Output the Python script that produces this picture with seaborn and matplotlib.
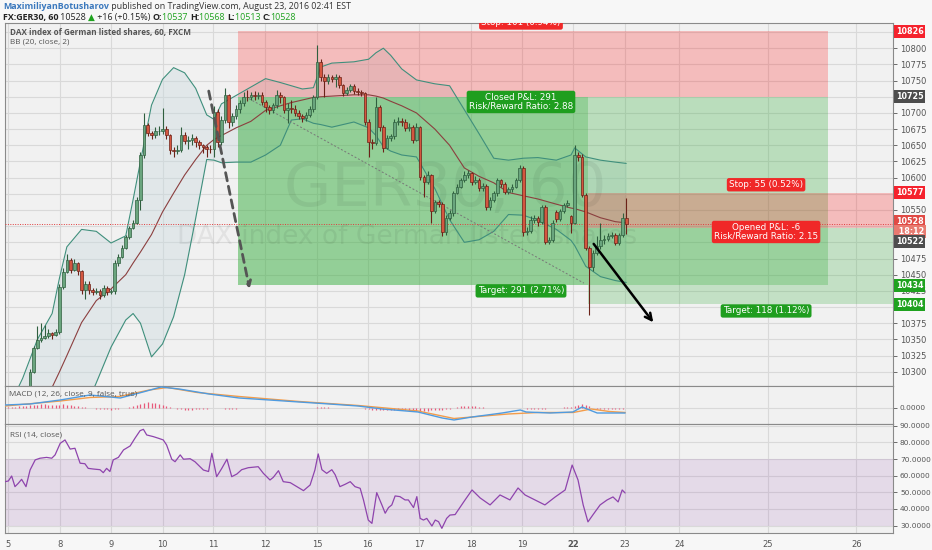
import numpy as np
import matplotlib
matplotlib.use("Agg")
import matplotlib.pyplot as plt
import seaborn as sns

# =====================================
# DATA (hourly bars)
# =====================================

opens = [
    10278, 10300, 10337, 10349, 10352, 10356, 10360, 10357, 10362, 10431,
    10454, 10473, 10458, 10468, 10456, 10427, 10436, 10426, 10424, 10425,
    10418, 10430, 10423, 10425, 10468, 10478, 10492, 10509, 10522, 10530,
    10566, 10635, 10681, 10669, 10666, 10672, 10672, 10675, 10666, 10642,
    10641, 10643, 10666, 10657, 10658, 10661, 10655, 10650, 10647, 10645,
    10644, 10701, 10655, 10689, 10727, 10686, 10696, 10706, 10715, 10725,
    10724, 10727, 10726, 10728, 10717, 10709, 10704, 10712, 10727, 10724,
    10705, 10707, 10706, 10700, 10695, 10692, 10697, 10706, 10725, 10779,
    10756, 10749, 10755, 10752, 10756, 10743, 10731, 10735, 10741, 10734,
    10732, 10731, 10686, 10655, 10653, 10709, 10678, 10646, 10661, 10664,
    10686, 10688, 10686, 10676, 10679, 10658, 10678, 10601, 10593, 10604,
    10549, 10562, 10560, 10516, 10538, 10545, 10576, 10586, 10596, 10604,
    10607, 10593, 10596, 10584, 10587, 10554, 10566, 10576, 10596, 10590,
    10578, 10582, 10586, 10596, 10615, 10516, 10518, 10535, 10537, 10531,
    10554, 10501, 10503, 10547, 10536, 10548, 10558, 10540, 10530, 10635,
    10632, 10573, 10492, 10462, 10484, 10494, 10503, 10505, 10510, 10512,
    10499, 10511, 10537,
]
highs = [
    10304, 10340, 10370, 10376, 10372, 10366, 10362, 10366, 10436, 10460,
    10482, 10476, 10474, 10470, 10458, 10440, 10440, 10430, 10430, 10428,
    10434, 10432, 10428, 10472, 10482, 10496, 10512, 10526, 10534, 10570,
    10640, 10700, 10684, 10672, 10678, 10680, 10708, 10680, 10668, 10648,
    10650, 10678, 10670, 10664, 10668, 10664, 10658, 10652, 10650, 10650,
    10710, 10706, 10696, 10738, 10730, 10700, 10712, 10720, 10732, 10736,
    10733, 10734, 10732, 10732, 10720, 10712, 10716, 10735, 10732, 10726,
    10716, 10720, 10712, 10704, 10698, 10702, 10710, 10728, 10805, 10784,
    10760, 10760, 10758, 10760, 10758, 10745, 10740, 10745, 10744, 10738,
    10736, 10733, 10690, 10660, 10725, 10712, 10682, 10666, 10668, 10690,
    10694, 10692, 10690, 10684, 10682, 10684, 10680, 10604, 10610, 10606,
    10566, 10566, 10562, 10542, 10550, 10580, 10590, 10600, 10610, 10612,
    10608, 10602, 10600, 10592, 10590, 10570, 10580, 10600, 10598, 10594,
    10586, 10590, 10600, 10620, 10618, 10524, 10540, 10543, 10540, 10558,
    10558, 10508, 10534, 10550, 10551, 10561, 10565, 10542, 10650, 10640,
    10636, 10576, 10494, 10488, 10510, 10530, 10512, 10515, 10516, 10514,
    10514, 10545, 10568,
]
lows = [
    10275, 10298, 10335, 10346, 10350, 10352, 10350, 10356, 10358, 10428,
    10452, 10452, 10455, 10450, 10420, 10412, 10420, 10418, 10420, 10412,
    10416, 10418, 10420, 10420, 10464, 10476, 10490, 10505, 10520, 10528,
    10550, 10630, 10664, 10660, 10662, 10666, 10668, 10660, 10636, 10632,
    10636, 10640, 10652, 10645, 10650, 10648, 10644, 10638, 10632, 10638,
    10632, 10648, 10650, 10684, 10676, 10680, 10690, 10700, 10710, 10718,
    10720, 10720, 10722, 10712, 10702, 10698, 10700, 10708, 10716, 10700,
    10684, 10700, 10696, 10690, 10686, 10688, 10694, 10702, 10722, 10750,
    10725, 10745, 10748, 10740, 10738, 10726, 10728, 10732, 10730, 10728,
    10726, 10682, 10632, 10645, 10650, 10672, 10640, 10644, 10656, 10660,
    10682, 10680, 10672, 10672, 10654, 10656, 10596, 10570, 10590, 10530,
    10546, 10554, 10510, 10512, 10534, 10540, 10574, 10584, 10594, 10600,
    10588, 10590, 10580, 10580, 10550, 10550, 10562, 10572, 10586, 10574,
    10574, 10578, 10584, 10594, 10510, 10512, 10514, 10530, 10526, 10528,
    10497, 10497, 10500, 10532, 10533, 10545, 10555, 10515, 10528, 10626,
    10570, 10488, 10388, 10455, 10480, 10490, 10498, 10502, 10506, 10496,
    10496, 10508, 10513,
]
closes = [
    10300, 10337, 10349, 10352, 10356, 10360, 10357, 10362, 10431, 10454,
    10473, 10458, 10468, 10456, 10427, 10436, 10426, 10424, 10425, 10418,
    10430, 10423, 10425, 10468, 10478, 10492, 10509, 10522, 10530, 10566,
    10635, 10681, 10669, 10666, 10672, 10672, 10675, 10666, 10642, 10641,
    10643, 10666, 10657, 10658, 10661, 10655, 10650, 10647, 10645, 10644,
    10701, 10655, 10689, 10727, 10686, 10696, 10706, 10715, 10725, 10724,
    10727, 10726, 10728, 10717, 10709, 10704, 10712, 10727, 10724, 10705,
    10707, 10706, 10700, 10695, 10692, 10697, 10706, 10725, 10779, 10756,
    10749, 10755, 10752, 10756, 10743, 10731, 10735, 10741, 10734, 10732,
    10731, 10686, 10655, 10653, 10709, 10678, 10646, 10661, 10664, 10686,
    10688, 10686, 10676, 10679, 10658, 10678, 10601, 10593, 10604, 10549,
    10562, 10560, 10516, 10538, 10545, 10576, 10586, 10596, 10604, 10607,
    10593, 10596, 10584, 10587, 10554, 10566, 10576, 10596, 10590, 10578,
    10582, 10586, 10596, 10615, 10516, 10518, 10535, 10537, 10531, 10554,
    10501, 10503, 10530, 10536, 10548, 10558, 10561, 10530, 10635, 10632,
    10573, 10492, 10462, 10484, 10494, 10503, 10505, 10510, 10512, 10499,
    10511, 10537, 10528,
]

# Bollinger bands (20, close, 2)
bb_bar = [-7, -2, 2, 6, 8, 10, 14, 18, 22, 26,
          28, 30, 33, 36, 39, 42, 45, 48, 50, 52,
          56, 60, 64, 68, 71, 74, 77, 79, 82, 88,
          92, 94, 96, 98, 101, 105, 110, 114, 118, 122,
          126, 130, 134, 138, 143, 147, 148, 151, 155, 159,
          162]
bb_upper = [10230, 10290, 10350, 10390, 10445, 10493, 10520, 10517, 10499, 10510,
            10566, 10625, 10712, 10752, 10770, 10762, 10738, 10697, 10690, 10714,
            10727, 10740, 10753, 10747, 10742, 10737, 10739, 10771, 10777, 10779,
            10783, 10793, 10800, 10789, 10768, 10751, 10745, 10742, 10705, 10668,
            10630, 10627, 10630, 10631, 10627, 10635, 10646, 10632, 10627, 10624,
            10622]
bb_mid = [10160, 10210, 10240, 10276, 10300, 10325, 10376, 10410, 10428, 10450,
          10468, 10485, 10512, 10547, 10576, 10604, 10628, 10650, 10659, 10665,
          10677, 10687, 10704, 10711, 10716, 10720, 10724, 10725, 10726, 10728,
          10728, 10726, 10723, 10718, 10711, 10700, 10675, 10650, 10615, 10602,
          10592, 10577, 10572, 10567, 10559, 10553, 10552, 10547, 10538, 10532,
          10530]
bb_lower = [10090, 10110, 10130, 10160, 10175, 10190, 10230, 10283, 10338, 10380,
            10390, 10375, 10323, 10343, 10385, 10450, 10537, 10628, 10627, 10623,
            10624, 10624, 10635, 10650, 10689, 10691, 10684, 10682, 10678, 10686,
            10677, 10665, 10648, 10641, 10635, 10632, 10583, 10535, 10500, 10504,
            10517, 10543, 10542, 10534, 10520, 10503, 10495, 10463, 10447, 10441,
            10438]

# MACD (12, 26, close, 9)
macd_bar = [-6.8, 0.0, 8.2, 16.3, 24.5, 30.7, 35.6, 40.5, 48.6, 56.8, 65.0, 73.1,
            81.3, 89.1, 95.7, 105.4, 112.0, 115.2, 120.1, 128.3, 133.2, 134.8,
            141.3, 147.5, 150.0, 154.1, 161.7]
macd_val = [6, 8, 16, 26, 20, 32, 42, 38, 28, 20, 16, 12,
            8, 4, -2, -8, -20, -24, -18, -10, -4, -8,
            -10, -8, 2, -10, -10]
signal_bar = [-6.8, 8.2, 16.3, 24.3, 32.4, 37.3, 45.4, 56.8, 73.1, 89.2,
              105.4, 115.2, 121.7, 129.9, 138.0, 147.6, 152.5, 157.4, 161.7]
signal_val = [4, 14, 21, 23, 36, 41, 31, 23, 13, 5,
              -6, -21, -17, -12, -9, -9, -2, -7, -9]
hist_val = [
    1, 1, 2, 2, 3, 3, 4,
    5, 6, 6, 7, 7, 6, 6, 5, 6, 7,
    6, 5, 4, 3, 2, 1, 0, -1, -2, -3,
    -3, -3, -4, -3, -2, -1, 0, 2, 4, 6,
    8, 10, 11, 10, 9, 7, 5, 3, 1, -1,
    -2, -3, -4, -4, -4, -3, -3, -2, -2, -1,
    0, -1, -1, -2, -2, -2, -2, -1, -1, -1,
    -1, -1, -1, -1, -1, 0, 0, 0, -1, -1,
    -1, -1, -1, -1, -1, -1, 0, 0, 1, 1,
    1, 1, 0, 0, 0, 0, 0, 0, 0, -1,
    -1, -2, -3, -4, -4, -5, -5, -5, -5, -4,
    -4, -4, -4, -5, -5, -6, -6, -6, -6, -5,
    -5, -5, -4, -3, -2, -1, 1, 3, 4, 4,
    4, 3, 2, 1, 0, -1, -1, -1, -1, -1,
    -1, -1, -1, 0, -1, -2, -2, -2, -2, -2,
    -2, -1, -1, 0, 0, 1, 1, 2, 4, 6,
    7, 6, 3, 0, -2, -3, -3, -3, -3, -3,
    -2, -2, -1,
]

# RSI (14, close)
rsi_bar = [-6.8, -5.9, -5.0, -4.1, -3.2, -2.3, -1.1, 0.0, 1.4, 2.7,
           4.5, 5.9, 6.8, 8.2, 9.5, 10.9, 12.2, 13.6, 14.9, 15.8,
           17.2, 19.0, 19.9, 20.8, 21.7, 22.6, 24.0, 25.4, 27.2, 28.5,
           29.9, 30.8, 31.7, 33.5, 34.9, 36.2, 37.1, 38.5, 39.4, 40.8,
           41.7, 43.5, 44.8, 47.1, 48.5, 49.4, 50.7, 52.1, 53.5, 54.8,
           56.2, 57.5, 59.3, 62.0, 63.4, 65.2, 66.1, 67.5, 68.8, 70.7,
           72.5, 74.3, 76.1, 77.4, 78.3, 79.3, 80.6, 82.0, 82.9, 84.2,
           85.6, 87.0, 88.3, 89.7, 90.6, 91.9, 92.9, 94.2, 95.6, 96.5,
           97.4, 98.3, 99.2, 100.5, 101.9, 102.8, 104.2, 105.1, 106.0, 106.9,
           107.8, 109.2, 110.1, 111.0, 111.9, 113.2, 114.1, 115.5, 118.2, 120.1,
           122.3, 125.0, 127.7, 130.4, 132.6, 134.5, 137.2, 139.9, 142.7, 145.4,
           147.3, 148.9, 150.3, 151.6, 153.0, 154.9, 156.8, 158.4, 159.8, 160.9,
           161.7]
rsi_val = [56.4, 56.8, 59.8, 53.4, 55.4, 57.8, 53.4, 63.4, 69.5, 70.5,
           71.0, 70.5, 72.5, 79.5, 81.5, 76.0, 76.5, 67.5, 67.2, 64.4,
           64.0, 63.6, 61.8, 64.4, 62.5, 69.5, 71.0, 75.5, 77.9, 82.5,
           87.1, 87.9, 84.5, 83.5, 82.5, 81.5, 78.5, 69.9, 68.4, 72.5,
           69.9, 70.2, 68.4, 63.4, 62.5, 73.5, 59.4, 64.4, 69.9, 59.4,
           61.0, 63.6, 64.8, 65.4, 61.4, 57.4, 59.0, 63.0, 56.4, 55.8,
           53.4, 51.0, 54.4, 63.4, 73.1, 63.6, 61.4, 63.6, 60.6, 53.4,
           54.8, 56.4, 53.4, 52.4, 45.4, 33.3, 31.3, 49.8, 42.4, 37.4,
           40.8, 42.4, 47.8, 47.4, 45.4, 45.4, 40.8, 47.4, 34.3, 33.3,
           34.3, 29.7, 33.3, 32.3, 28.3, 34.3, 36.3, 36.6, 45.4, 51.4,
           46.6, 42.4, 48.4, 45.4, 52.6, 48.4, 45.4, 42.4, 47.2, 51.4,
           66.4, 57.4, 42.4, 32.2, 36.6, 42.4, 45.4, 47.2, 44.2, 51.4,
           49.6]

# date axis
day_labels = ["5", "8", "9", "10", "11", "12", "15", "16", "17", "18",
              "19", "22", "23", "24", "25", "26"]
day_bar = [-6.0, 8.2, 22.0, 36.0, 49.7, 63.9, 78.0, 91.8, 105.7, 119.8,
           133.7, 147.6, 161.7, 176.4, 200.5, 224.5]

# short positions (entry, stop, target, start bar, close bar, end bar)
pos1 = dict(entry=10725, stop=10826, target=10434, start=56.4, close=151.6, end=216.8)
pos2 = dict(entry=10522, stop=10577, target=10404, start=151.6, end=248.0)
trade_line = ([59.5, 150.5], [10722, 10437])
dash_arrow = ((48.4, 10738), (59.8, 10424))
black_arrow = ((152.7, 10501), (169.8, 10373))
last_price = 10528

# price levels hidden behind the coloured scale tags
covered_levels = [10825, 10725, 10575, 10525, 10500, 10400]

# =====================================
# FIGURE
# =====================================

sns.set_style("white")
plt.rcParams["font.family"] = ["DejaVu Sans"]

BG = "#f1f1f1"
GRID = "#d9d9d9"
TXT = "#555555"
HEAD_FONT = ["Open Sans", "DejaVu Sans"]

fig = plt.figure(figsize=(9.32, 5.5), dpi=100, facecolor="#f7f7f7")
ax = fig.add_axes([0.0054, 0.2982, 0.9528, 0.6600])
ax_macd = fig.add_axes([0.0054, 0.2291, 0.9528, 0.0691], sharex=ax)
ax_rsi = fig.add_axes([0.0054, 0.0309, 0.9528, 0.1982], sharex=ax)

x_min, x_max = -6.8, 234.5
for a in (ax, ax_macd, ax_rsi):
    a.set_facecolor(BG)
    for s in a.spines.values():
        s.set_color("#8a8a8a")
        s.set_linewidth(0.8)
    a.yaxis.tick_right()
    a.tick_params(axis="y", labelsize=6, colors=TXT, length=3, width=0.6, pad=2)
    for d in day_bar:
        a.axvline(d, color=GRID, lw=0.8, zorder=0)
ax.set_xlim(x_min, x_max)

# ---- main price panel ----
ax.set_ylim(10278, 10839)
price_ticks = np.arange(10300, 10826, 25)
ax.set_yticks(price_ticks)
ax.set_yticklabels(["" if p in covered_levels else str(p) for p in price_ticks])
for p in price_ticks:
    ax.axhline(p, color=GRID, lw=0.8, zorder=0)

# bollinger band fill (under the position boxes)
ax.fill_between(bb_bar, bb_lower, bb_upper, color="#c9d9df", alpha=0.4, lw=0, zorder=0.5)

# position boxes
ax.fill_between([pos1["start"], pos1["end"]], pos1["entry"], pos1["stop"],
                color="red", alpha=0.22, lw=0, zorder=1)
ax.fill_between([pos1["start"], pos1["end"]], pos1["target"], pos1["entry"],
                color="#3cb043", alpha=0.3, lw=0, zorder=1)
ax.fill_between([pos1["start"], pos1["close"]], pos1["target"], pos1["entry"],
                color="#3cb043", alpha=0.3, lw=0, zorder=1)
ax.fill_between([pos2["start"], pos2["end"]], pos2["entry"], pos2["stop"],
                color="red", alpha=0.22, lw=0, zorder=1)
ax.fill_between([pos2["start"], pos2["end"]], pos2["target"], pos2["entry"],
                color="#3cb043", alpha=0.25, lw=0, zorder=1)

# watermark
ax.text(112.8, 10581, "GER30, 60", fontsize=44, color="black", alpha=0.06,
        ha="center", va="center", zorder=1.5)
ax.text(102.4, 10508, "DAX index of German listed shares", fontsize=19,
        color="black", alpha=0.06, ha="center", va="center", zorder=1.5)

# bollinger lines
sns.lineplot(x=bb_bar, y=bb_upper, ax=ax, color="#3f8f7c", linewidth=0.8, zorder=3)
sns.lineplot(x=bb_bar, y=bb_lower, ax=ax, color="#3f8f7c", linewidth=0.8, zorder=3)
sns.lineplot(x=bb_bar, y=bb_mid, ax=ax, color="#8b3f3f", linewidth=0.8, zorder=3)

# trade path of the closed position
ax.plot(trade_line[0], trade_line[1], color="#777777", lw=0.7, ls=(0, (2, 2)), zorder=3)

# candles
bars = np.arange(len(closes))
o = np.array(opens)
c = np.array(closes)
up = c >= o
body_col = np.where(up, "#6aa57e", "#d4563f")
edge_col = np.where(up, "#2f5f3e", "#6b2218")
ax.vlines(bars, lows, highs, color=edge_col, linewidth=0.8, zorder=4)
ax.bar(bars, c - o, bottom=o, width=0.72, color=body_col, edgecolor=edge_col,
       linewidth=0.5, zorder=5)

# last price line
ax.axhline(last_price, color="#e03c3c", lw=0.7, ls=(0, (1, 1.5)), zorder=3)

# hand drawn arrows
ax.annotate("", xy=dash_arrow[1], xytext=dash_arrow[0],
            arrowprops=dict(arrowstyle="->", color="#555555", lw=2,
                            linestyle=(0, (3, 2)), mutation_scale=10), zorder=6)
ax.annotate("", xy=black_arrow[1], xytext=black_arrow[0],
            arrowprops=dict(arrowstyle="->", color="black", lw=1.8,
                            mutation_scale=12), zorder=6)

# position labels
def pos_label(x, y, text, fc, clip=False):
    t = ax.text(x, y, text, fontsize=6.3, color="white", ha="center", va="center",
                linespacing=1.0, zorder=7,
                bbox=dict(boxstyle="round,pad=0.25", fc=fc, ec="none"))
    if clip:
        t.set_clip_on(True)
        t.set_clip_path(ax.patch)
    return t

pos_label(133.4, 10839, "Stop: 101 (0.94%)", "#f02828", clip=True)
pos_label(133.4, 10717, "Closed P&L: 291\nRisk/Reward Ratio: 2.88", "#1f9e1f")
pos_label(133.4, 10425, "Target: 291 (2.71%)", "#1f9e1f")
pos_label(200.0, 10589, "Stop: 55 (0.52%)", "#f02828")
pos_label(200.0, 10516, "Opened P&L: -6\nRisk/Reward Ratio: 2.15", "#f02828")
pos_label(200.0, 10394, "Target: 118 (1.12%)", "#1f9e1f")

# price tags on the right scale
def tag(y, text, fc):
    ax.text(1.003, y, text, transform=ax.get_yaxis_transform(), fontsize=5.8,
            fontweight="bold", color="white", ha="left", va="center", zorder=8,
            clip_on=False, bbox=dict(boxstyle="square,pad=0.25", fc=fc, ec="none"))

tag(10826, "10826", "#f5222d")
tag(10725, "10725", "#4d4d4d")
tag(10577, "10577", "#f5222d")
tag(10532, "10528", "#e04a45")
tag(10517, " 18:12", "#e87a70")
tag(10502, "10522", "#4d4d4d")
tag(10434, "10434", "#1fa21f")
tag(10404, "10404", "#1fa21f")

ax.text(0.006, 0.987, "DAX index of German listed shares, 60, FXCM", transform=ax.transAxes,
        fontsize=5.9, fontweight="bold", color=TXT, ha="left", va="top", zorder=9,
        family=HEAD_FONT)
ax.text(0.006, 0.958, "BB (20, close, 2)", transform=ax.transAxes,
        fontsize=5.9, color=TXT, ha="left", va="top", zorder=9, family=HEAD_FONT)
ax.tick_params(axis="x", bottom=False, labelbottom=False)

# ---- MACD panel ----
ax_macd.set_ylim(-32, 44)
ax_macd.set_yticks([0])
ax_macd.set_yticklabels(["0.0000"])
ax_macd.tick_params(axis="y", labelsize=5.3)
ax_macd.axhline(0, color=GRID, lw=0.8, zorder=0)
hist_bar = np.arange(-7, -7 + len(hist_val))
ax_macd.vlines(hist_bar, 0, hist_val, color="#e8597a", lw=0.9, zorder=2)
sns.lineplot(x=signal_bar, y=signal_val, ax=ax_macd, color="#f39c4a", linewidth=1.0, zorder=3)
sns.lineplot(x=macd_bar, y=macd_val, ax=ax_macd, color="#4f9be0", linewidth=1.0, zorder=3)
ax_macd.text(0.004, 0.88, "MACD (12, 26, close, 9, false, true)", transform=ax_macd.transAxes,
             fontsize=5.9, color=TXT, ha="left", va="top", family=HEAD_FONT)
ax_macd.tick_params(axis="x", bottom=False, labelbottom=False)
ax_macd.set_ylabel("")

# ---- RSI panel ----
ax_rsi.set_ylim(25.5, 91.1)
rsi_ticks = np.arange(30, 91, 10)
ax_rsi.set_yticks(rsi_ticks)
ax_rsi.set_yticklabels([f"{v:.4f}" for v in rsi_ticks])
ax_rsi.tick_params(axis="y", labelsize=5.3)
for v in rsi_ticks:
    ax_rsi.axhline(v, color=GRID, lw=0.8, zorder=0)
ax_rsi.axhspan(30, 70, color="#9b59b6", alpha=0.15, lw=0, zorder=1)
sns.lineplot(x=rsi_bar, y=rsi_val, ax=ax_rsi, color="#8e44ad", linewidth=0.9, zorder=3)
ax_rsi.text(0.006, 0.93, "RSI (14, close)", transform=ax_rsi.transAxes,
            fontsize=5.9, color=TXT, ha="left", va="top", family=HEAD_FONT)
ax_rsi.set_xticks(day_bar)
ax_rsi.set_xticklabels(day_labels)
ax_rsi.tick_params(axis="x", labelsize=6, colors=TXT, length=3, width=0.6, pad=2)
for lab in ax_rsi.get_xticklabels():
    if lab.get_text() == "22":
        lab.set_fontweight("bold")
ax_rsi.set_ylabel("")
ax_rsi.set_xlabel("")
ax.set_ylabel("")
ax.set_xlabel("")

# ---- header ----
def write_row(y, parts, size):
    renderer = fig.canvas.get_renderer()
    x = 0.003
    for text, color, weight in parts:
        t = fig.text(x, y, text, fontsize=size, color=color, fontweight=weight,
                     family=HEAD_FONT)
        x += t.get_window_extent(renderer).width / fig.bbox.width

write_row(0.9836, [
    ("MaximiliyanBotusharov", "#3a78bd", "bold"),
    (" published on TradingView.com, August 23, 2016 02:41 EST", "#333333", "normal"),
], 6.4)
write_row(0.9636, [
    ("FX:GER30, 60", "#222222", "bold"),
    (" 10528 ", "#222222", "normal"),
    ("\u25b2", "#1fa21f", "normal"),
    (" +16 (+0.15%) ", "#222222", "normal"),
    ("O:", "#222222", "bold"), ("10537 ", "#1fa21f", "normal"),
    ("H:", "#222222", "bold"), ("10568 ", "#1fa21f", "normal"),
    ("L:", "#222222", "bold"), ("10513 ", "#1fa21f", "normal"),
    ("C:", "#222222", "bold"), ("10528", "#1fa21f", "normal"),
], 6.4)

plt.savefig("out.png", dpi=100, facecolor=fig.get_facecolor())
plt.close()
